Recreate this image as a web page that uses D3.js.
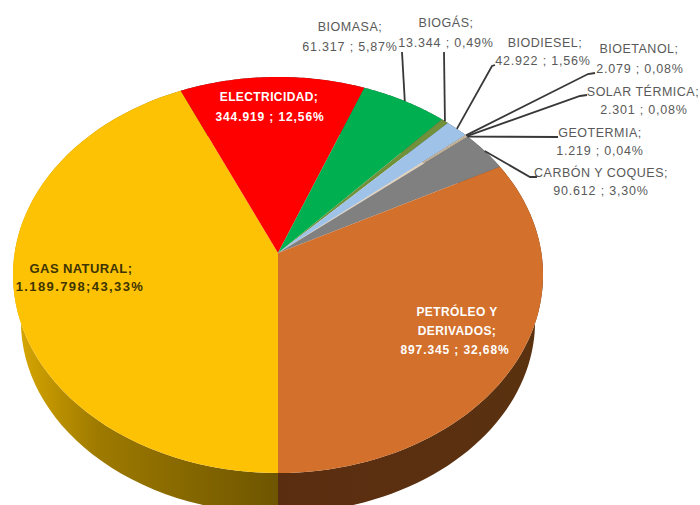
<!DOCTYPE html>
<html>
<head>
<meta charset="utf-8">
<style>
  html, body { margin: 0; padding: 0; background: #fff; }
  text { font-family: "Liberation Sans", sans-serif; text-anchor: middle; }
</style>
<script src="https://cdn.jsdelivr.net/npm/d3@7/dist/d3.min.js"></script>
</head>
<body>
<svg id="chart" width="700" height="505"></svg>
<script>
// Energy sources, clockwise from the front of the pie
const sources = ["GAS NATURAL", "ELECTRICIDAD", "BIOMASA", "BIOGÁS", "BIODIESEL", "BIOETANOL", "SOLAR TÉRMICA", "GEOTERMIA", "CARBÓN Y COQUES", "PETRÓLEO Y DERIVADOS"];
const amounts = ["1.189.798", "344.919", "61.317", "13.344", "42.922", "2.079", "2.301", "1.219", "90.612", "897.345"];
const shares = [43.33, 12.56, 5.87, 0.49, 1.56, 0.08, 0.08, 0.04, 3.30, 32.68];
const topColors = ["#fec205", "#ff0000", "#00b050", "#70903a", "#9fc2e8", "#d8c4a8", "#d8c4a8", "#d8c4a8", "#808080", "#d2702c"];

const svg = d3.select("#chart");
const defs = svg.append("defs");

// Tilted-disc perspective: the apex sits above the middle of the visible ellipse
const apex = { x: 278, y: 253 };
const disc = { a: 263.4, b: 195.6, k: 0.111 };
const wall = { drop: 47, shrink: 0.97 };

function rim(theta) {
  const dx = Math.sin(theta), dy = -Math.cos(theta), w = 1 - disc.k * dy;
  return [apex.x + disc.a * dx / w, apex.y + disc.b * dy / w];
}
function lowerRim(theta) {
  const p = rim(theta);
  return [apex.x + (p[0] - apex.x) * wall.shrink, apex.y + wall.drop + (p[1] - apex.y) * wall.shrink];
}
function sweep(a0, a1) {
  return d3.range(0, 61).map(i => a0 + (a1 - a0) * i / 60);
}

const arcs = d3.pie().sort(null).startAngle(Math.PI).endAngle(3 * Math.PI)(shares);
const line = d3.line();

// Side wall shading for the two front slices
const gasWall = defs.append("linearGradient").attr("id", "gasWall")
  .attr("gradientUnits", "userSpaceOnUse").attr("x1", 20).attr("x2", 278).attr("y1", 0).attr("y2", 0);
gasWall.append("stop").attr("offset", 0).attr("stop-color", "#d6a500");
gasWall.append("stop").attr("offset", 0.3).attr("stop-color", "#9e7a00");
gasWall.append("stop").attr("offset", 1).attr("stop-color", "#6e5500");
const oilWall = defs.append("linearGradient").attr("id", "oilWall")
  .attr("gradientUnits", "userSpaceOnUse").attr("x1", 278).attr("x2", 535).attr("y1", 0).attr("y2", 0);
oilWall.append("stop").attr("offset", 0).attr("stop-color", "#5b2d10");
oilWall.append("stop").attr("offset", 1).attr("stop-color", "#5a3210");

const wallFill = i => i === 0 ? "url(#gasWall)" : i === sources.length - 1 ? "url(#oilWall)" : "#555";

svg.append("g").selectAll("path").data(arcs).join("path")
  .attr("fill", (d, i) => wallFill(i))
  .attr("d", d => {
    const angles = sweep(d.startAngle, d.endAngle);
    return line(angles.map(rim).concat(angles.slice().reverse().map(lowerRim))) + "Z";
  });

svg.append("g").selectAll("path").data(arcs).join("path")
  .attr("fill", (d, i) => topColors[i])
  .attr("d", d => line([[apex.x, apex.y]].concat(sweep(d.startAngle, d.endAngle).map(rim))) + "Z");

// Text styles for labels outside and inside the pie
const outer = { fill: "#595959", weight: "normal", size: 12.5, nameGap: 0.5, valueGap: 0.8, sep: " ; " };
const inner = { fill: "#fff", weight: "bold", size: 12, nameGap: 0.4, valueGap: 0.9, sep: " ; " };
const onGold = { fill: "#3d3400", weight: "bold", size: 13, nameGap: 0.4, valueGap: 1.4, sep: ";" };

// Leader elbows and label placement for each slice
const labelLayout = [
  { style: onGold, lines: [[81, 273, "GAS NATURAL;"], [80, 291, "@"]] },
  { style: inner, lines: [[269, 101, "ELECTRICIDAD;"], [270, 121, "@"]] },
  { style: outer, elbow: [[402, 52]], lines: [[350, 31, "BIOMASA;"], [350, 51, "@"]] },
  { style: outer, elbow: [[444, 52]], lines: [[446, 27, "BIOGÁS;"], [446, 47, "@"]] },
  { style: outer, elbow: [[495, 65], [492, 66]], lines: [[545, 47, "BIODIESEL;"], [543, 65, "@"]] },
  { style: outer, elbow: [[595, 73], [588, 74]], lines: [[639, 53, "BIOETANOL;"], [640, 73, "@"]] },
  { style: outer, elbow: [[587, 95], [580, 96]], lines: [[643, 96, "SOLAR TÉRMICA;"], [644, 114, "@"]] },
  { style: outer, elbow: [[558, 137]], lines: [[600, 137, "GEOTERMIA;"], [600, 155, "@"]] },
  { style: outer, elbow: [[537, 177], [530, 177]], lines: [[601, 177, "CARBÓN Y COQUES;"], [601, 195, "@"]] },
  { style: inner, lines: [[457, 316, "PETRÓLEO Y"], [457, 335, "DERIVADOS;"], [455, 354, "@"]] }
];

// Leaders start on the rim at each slice's mid-angle
labelLayout.forEach((entry, i) => {
  if (!entry.elbow) return;
  const mid = (arcs[i].startAngle + arcs[i].endAngle) / 2;
  svg.append("path")
    .attr("fill", "none").attr("stroke", "#383838").attr("stroke-width", 1.8)
    .attr("d", line(entry.elbow.concat([rim(mid)])));
});

const percent = v => d3.format(".2f")(v).replace(".", ",") + "%";
labelLayout.forEach((entry, i) => {
  const s = entry.style;
  entry.lines.forEach(([x, y, content]) => {
    const isValue = content === "@";
    svg.append("text")
      .attr("x", x).attr("y", y)
      .attr("font-size", s.size)
      .attr("font-weight", s.weight)
      .attr("letter-spacing", isValue ? s.valueGap : s.nameGap)
      .attr("fill", s.fill)
      .text(isValue ? `${amounts[i]}${s.sep}${percent(shares[i])}` : content);
  });
});
</script>
</body>
</html>
